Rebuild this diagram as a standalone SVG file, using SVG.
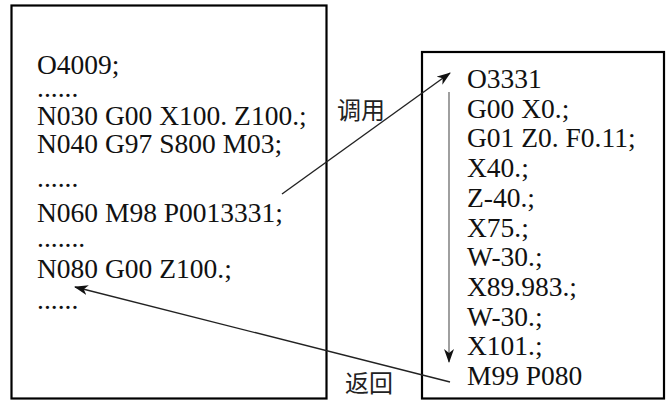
<svg xmlns="http://www.w3.org/2000/svg" width="666" height="403" viewBox="0 0 666 403">
<defs>
<style>
.box{fill:#fff;stroke:#000;stroke-width:2.2}
.code{font-family:'Liberation Serif','Tinos','DejaVu Serif','Noto Serif',serif;font-size:27.5px;fill:#111}
.cjk{font-family:'Noto Sans CJK SC','Noto Sans',sans-serif;font-size:24px;fill:#222}
.conn{stroke:#222;stroke-width:1.4;fill:none}
</style>
<marker id="ah" viewBox="0 0 14 10" refX="13" refY="5" markerWidth="14" markerHeight="10" markerUnits="userSpaceOnUse" orient="auto">
<path d="M0,0 L14,5 L0,10 L4,5 Z" fill="#111"/>
</marker>
</defs>
<rect width="666" height="403" fill="#fff"/>
<g id="main-program" font-family="Liberation Serif, serif">
<rect class="box" x="11.5" y="5.5" width="315" height="393"/>
<text class="code" x="37" y="74">O4009;</text>
<text class="code" x="37" y="97">......</text>
<text class="code" x="37" y="125">N030 G00 X100. Z100.;</text>
<text class="code" x="37" y="153">N040 G97 S800 M03;</text>
<text class="code" x="37" y="187">......</text>
<text class="code" x="37" y="222">N060 M98 P0013331;</text>
<text class="code" x="37" y="247">.......</text>
<text class="code" x="37" y="278">N080 G00 Z100.;</text>
<text class="code" x="37" y="309">......</text>
</g>
<g id="sub-program" font-family="Liberation Serif, serif">
<rect class="box" x="422" y="52" width="242" height="346.5"/>
<text class="code" x="467" y="88">O3331</text>
<text class="code" x="467" y="117.7">G00 X0.;</text>
<text class="code" x="467" y="147.4">G01 Z0. F0.11;</text>
<text class="code" x="467" y="177.1">X40.;</text>
<text class="code" x="467" y="206.8">Z-40.;</text>
<text class="code" x="467" y="236.5">X75.;</text>
<text class="code" x="467" y="266.2">W-30.;</text>
<text class="code" x="467" y="295.9">X89.983.;</text>
<text class="code" x="467" y="325.6">W-30.;</text>
<text class="code" x="467" y="355.3">X101.;</text>
<text class="code" x="467" y="385">M99 P080</text>
</g>
<g id="connectors">
<line class="conn" x1="282" y1="194" x2="450" y2="73" marker-end="url(#ah)"/>
<line class="conn" x1="450" y1="382" x2="75" y2="287" marker-end="url(#ah)"/>
<line x1="449" y1="92" x2="449" y2="362" stroke="#888" stroke-width="1.6" marker-end="url(#ah)"/>
<text class="cjk" x="337" y="119">调用</text>
<text class="cjk" x="345" y="392">返回</text>
</g>
</svg>
